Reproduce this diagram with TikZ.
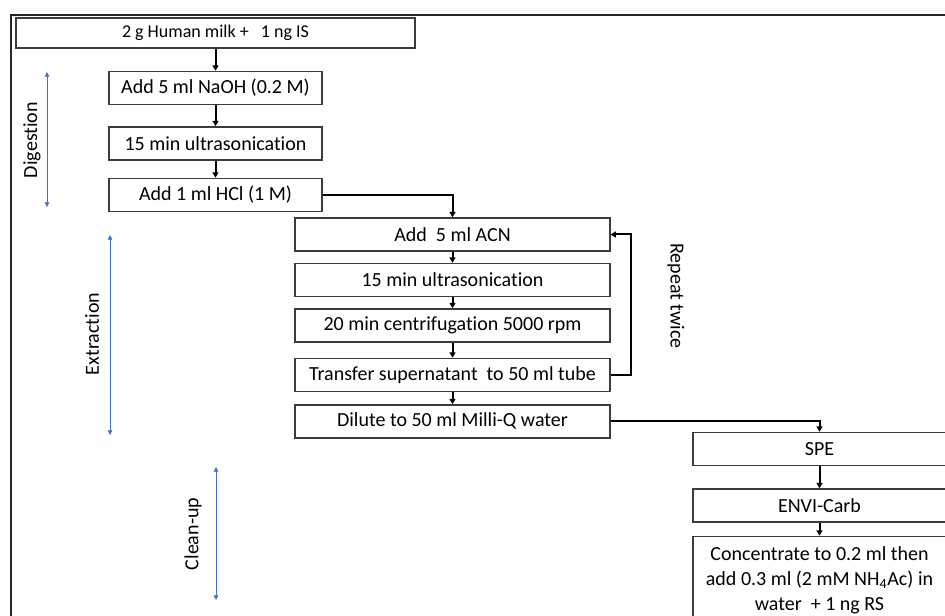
\documentclass[tikz,border=0pt]{standalone}
\usepackage{fontspec}
\setmainfont{Carlito}[Ligatures=NoCommon]
\usetikzlibrary{arrows.meta, positioning}
\definecolor{stageblue}{RGB}{68,114,196}
\definecolor{boxline}{RGB}{60,60,60}

\begin{document}
\begin{tikzpicture}[
  x=0.75pt, y=-0.75pt,
  box/.style      = {draw=boxline, line width=1.1pt, minimum height=24.75pt,
                     inner sep=2pt, align=center,
                     font=\fontsize{15}{18.75}\selectfont},
  leftbox/.style  = {box, minimum width=160pt},
  midbox/.style   = {box, minimum width=236pt},
  rightbox/.style = {box, minimum width=190pt},
  arr/.style      = {-{Triangle[length=4pt,width=4.5pt]}, line width=1.5pt},
  span/.style     = {{Triangle[length=3.5pt,width=3.5pt]}-{Triangle[length=3.5pt,width=3.5pt]},
                     stageblue, line width=0.6pt},
  stage/.style    = {font=\fontsize{15}{18}\selectfont}
]
  \useasboundingbox (0,0) rectangle (945,616);
  \clip (0,0) rectangle (945,616);

  %% Outer frame
  \draw[line width=2.2pt, black!85] (950,15) -| (11,625);

  %% Digestion
  \node[box, minimum width=299pt, minimum height=22.5pt,
        font=\fontsize{13.5}{16}\selectfont] (milk) at (215.5,33) {2 g Human milk +\ \ \ 1 ng IS};
  \node[leftbox, below=16.5pt of milk]  (naoh)  {Add 5 ml NaOH (0.2 M)};
  \node[leftbox, below=15.75pt of naoh] (sono1) {15 min ultrasonication};
  \node[leftbox, below=12.75pt of sono1](hcl)   {Add 1 ml HCl (1 M)};

  \draw[arr] (milk)  -- (naoh);
  \draw[arr] (naoh)  -- (sono1);
  \draw[arr] (sono1) -- (hcl);

  %% Extraction
  \node[midbox] (acn) at (452.5,234.5) {Add\ \ 5 ml ACN};
  \node[midbox, below=8.25pt of acn]    (sono2)    {15 min ultrasonication};
  \node[midbox, below=8.25pt of sono2]  (centri)   {20 min centrifugation 5000 rpm};
  \node[midbox, below=11.25pt of centri](transfer) {Transfer supernatant\ \ to 50 ml tube};
  \node[midbox, below=9pt of transfer]  (dilute)   {Dilute to 50 ml Milli-Q water};

  \draw[arr] (hcl.east) -| (acn.north);
  \draw[arr] (acn)    -- (sono2);
  \draw[arr] (sono2)  -- (centri);
  \draw[arr] (centri) -- (transfer);
  \draw[arr] (transfer) -- (dilute);
  \draw[arr] (transfer.east) -- ++(20,0) |- (acn.east);
  \node[stage, rotate=-90] (repeat) at (676,296) {Repeat twice};

  %% Clean-up
  \node[rightbox] (spe) at (819.5,449) {SPE};
  \node[rightbox, below=16.5pt of spe] (envi) {ENVI-Carb};
  \node[rightbox, below=9.75pt of envi, minimum height=66pt] (conc)
       {Concentrate to 0.2 ml then\\add 0.3 ml (2 mM NH\textsubscript{4}Ac) in\\water\ \ + 1 ng RS};

  \draw[arr] (dilute.east) -| (spe.north);
  \draw[arr] (spe)  -- (envi);
  \draw[arr] (envi) -- (conc);

  %% Stage spans
  \coordinate (dtop) at (47,72);   \coordinate (dbot) at (47,207);
  \coordinate (etop) at (110,235); \coordinate (ebot) at (110,435);
  \coordinate (ctop) at (216,467); \coordinate (cbot) at (216,600);
  \draw[span] (dtop) -- (dbot);
  \draw[span] (etop) -- (ebot);
  \draw[span] (ctop) -- (cbot);
  \node[stage, rotate=90] (digestion)  at (32,140)  {Digestion};
  \node[stage, rotate=90] (extraction) at (92,334)  {Extraction};
  \node[stage, rotate=90] (cleanup)    at (193,534) {Clean-up};
\end{tikzpicture}
\end{document}
